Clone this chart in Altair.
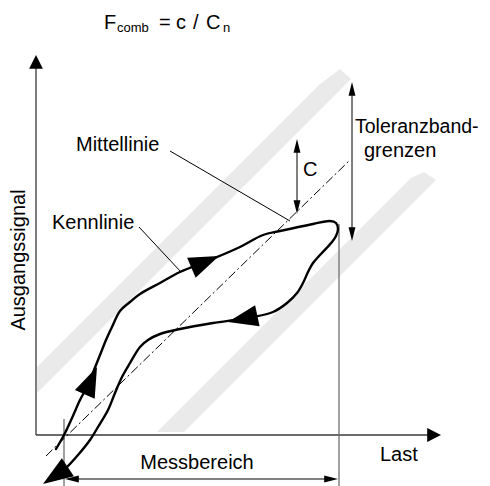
import altair as alt
import pandas as pd

# ---------------- data (schematic, in image pixel units) ----------------
# Kennlinie: hysteresis loop, ascending branch then descending branch
curve_x = [56, 64, 72, 80, 87, 94, 100, 106, 112, 120, 130, 140, 160, 180, 210, 240, 263, 280, 313, 330, 336, 338,
           336, 332, 320, 313, 308, 303, 297, 287, 273, 247, 213, 180, 160, 148, 140, 130, 122, 115, 108, 98, 90, 78, 65, 52]
curve_y = [449, 435, 418, 400, 387, 370, 355, 340, 327, 311, 302, 294, 283, 272, 260, 247, 235, 231, 224, 221, 223, 229,
           236, 242, 255, 263, 272, 283, 293, 303, 312, 318, 323, 329, 334, 340, 347, 363, 377, 393, 410, 427, 440, 455, 469, 480]

# Mittellinie (dash-dot)
mid_x = [46, 350]
mid_y = [456, 160]

# Tolerance bands (upper / lower limit of the band)
band_name = ["oben"] * 4 + ["unten"] * 5
band_x = [37, 319, 340, 351, 157, 184, 411, 424, 436]
band_top = [367, 85, 69, 79, 432, 405, 178, 172, 180]
band_bot = [393, 111, 90, 79, 432, 432, 205, 192, 180]

# straight segments
seg_x = [36, 36, 64, 339, 70, 297, 352, 170, 139]
seg_y = [435, 435, 419, 224, 479, 145, 88, 151, 227]
seg_x2 = [36, 434, 64, 339, 333, 297, 352, 290, 181]
seg_y2 = [62, 435, 486, 486, 479, 208, 236, 221, 272]
seg_kind = ["axis", "axis", "guide", "guide", "dim", "dim", "dim", "lead", "lead"]

# arrow heads (tip position, direction)
arr_x = [36, 441, 65, 338, 297, 297, 352, 352, 97, 219, 228, 43]
arr_y = [55, 435, 479, 479, 139, 214, 82, 241, 367, 256, 322, 484]
arr_angle = [0, 90, 270, 90, 0, 180, 0, 180, 24, 67, 258, 236]
arr_kind = ["axis", "axis", "thin", "thin", "thin", "thin", "thin", "thin", "curve", "curve", "curve", "curve"]

# labels
lab_text = ["Mittellinie", "Kennlinie", "C", "Toleranzband-", "grenzen", "Last"]
lab_x = [76, 52, 303, 355, 364, 380]
lab_y = [145, 223, 170, 127, 151, 455]
lab_size = [20, 20, 20, 19.5, 20, 20]

title_text = ["F", "comb", "=", "c", "/", "C", "n"]
title_x = [104, 117, 159, 176, 193, 206, 223]
title_y = [29, 32, 29, 29, 29, 29, 32]
title_size = [20, 13, 20, 20, 20, 20, 13]

# ---------------- styles ----------------
FONT = "Liberation Sans"
seg_color = {"axis": "#3a3a3a", "guide": "#6e6e6e", "dim": "#000000", "lead": "#000000"}
seg_width = {"axis": 1.3, "guide": 1.3, "dim": 1.0, "lead": 1.0}
arr_path = {"axis": "M0,0L1.0,2L-1.0,2Z", "thin": "M0,0L0.5,2L-0.5,2Z", "curve": "M0,0L0.72,2L-0.72,2Z"}
arr_size = {"axis": 190, "thin": 190, "curve": 900}

W, H = 474, 478
xs = alt.Scale(domain=[8, 8 + W], nice=False, zero=False)
ys = alt.Scale(domain=[8, 8 + H], nice=False, zero=False, reverse=True)

# ---------------- layers ----------------
bands = pd.DataFrame({"b": band_name, "x": band_x, "y": band_top, "y2": band_bot})
band_layer = alt.Chart(bands).mark_area(color="#eaeaea", interpolate="linear").encode(
    x=alt.X("x:Q", scale=xs, axis=None),
    y=alt.Y("y:Q", scale=ys, axis=None),
    y2="y2:Q",
    detail="b:N",
)

segs = pd.DataFrame({"x": seg_x, "y": seg_y, "x2": seg_x2, "y2": seg_y2, "k": seg_kind})
segs["c"] = segs["k"].map(seg_color)
segs["w"] = segs["k"].map(seg_width)
seg_layer = alt.Chart(segs).mark_rule().encode(
    x=alt.X("x:Q", scale=xs, axis=None),
    y=alt.Y("y:Q", scale=ys, axis=None),
    x2="x2:Q",
    y2="y2:Q",
    color=alt.Color("c:N", scale=None),
    strokeWidth=alt.StrokeWidth("w:Q", scale=None),
)

mid = pd.DataFrame({"x": mid_x, "y": mid_y, "i": range(len(mid_x))})
mid_layer = alt.Chart(mid).mark_line(color="black", strokeWidth=1, strokeDash=[9, 3, 2, 3]).encode(
    x=alt.X("x:Q", scale=xs, axis=None),
    y=alt.Y("y:Q", scale=ys, axis=None),
    order="i:Q",
)

curve = pd.DataFrame({"x": curve_x, "y": curve_y, "i": range(len(curve_x))})
curve_layer = alt.Chart(curve).mark_line(color="black", strokeWidth=2.4, interpolate="catmull-rom",
                                         strokeJoin="round", strokeCap="round").encode(
    x=alt.X("x:Q", scale=xs, axis=None),
    y=alt.Y("y:Q", scale=ys, axis=None),
    order="i:Q",
)

arrs = pd.DataFrame({"x": arr_x, "y": arr_y, "a": arr_angle, "k": arr_kind})
arrs["shape"] = arrs["k"].map(arr_path)
arrs["size"] = arrs["k"].map(arr_size)
arr_layer = alt.Chart(arrs).mark_point(filled=True, color="black", opacity=1, strokeWidth=0).encode(
    x=alt.X("x:Q", scale=xs, axis=None),
    y=alt.Y("y:Q", scale=ys, axis=None),
    shape=alt.Shape("shape:N", scale=None),
    size=alt.Size("size:Q", scale=None),
    angle=alt.Angle("a:Q", scale=None),
)

labs = pd.DataFrame({"t": lab_text, "x": lab_x, "y": lab_y, "s": lab_size})
lab_layer = alt.Chart(labs).mark_text(align="left", baseline="middle", font=FONT, color="black").encode(
    x=alt.X("x:Q", scale=xs, axis=None),
    y=alt.Y("y:Q", scale=ys, axis=None),
    text="t:N",
    size=alt.Size("s:Q", scale=None),
)

mess_layer = alt.Chart(pd.DataFrame({"t": ["Messbereich"], "x": [197], "y": [463]})).mark_text(
    align="center", baseline="middle", font=FONT, fontSize=20, color="black").encode(
    x=alt.X("x:Q", scale=xs, axis=None),
    y=alt.Y("y:Q", scale=ys, axis=None),
    text="t:N",
)

ylab_layer = alt.Chart(pd.DataFrame({"t": ["Ausgangssignal"], "x": [19], "y": [260]})).mark_text(
    align="center", baseline="middle", font=FONT, fontSize=20, color="black", angle=270).encode(
    x=alt.X("x:Q", scale=xs, axis=None),
    y=alt.Y("y:Q", scale=ys, axis=None),
    text="t:N",
)

tit = pd.DataFrame({"t": title_text, "x": title_x, "y": title_y, "s": title_size})
title_layer = alt.Chart(tit).mark_text(align="left", baseline="alphabetic", font=FONT, color="black").encode(
    x=alt.X("x:Q", scale=xs, axis=None),
    y=alt.Y("y:Q", scale=ys, axis=None),
    text="t:N",
    size=alt.Size("s:Q", scale=None),
)

chart = alt.layer(
    band_layer, seg_layer, mid_layer, curve_layer, arr_layer, lab_layer, mess_layer, ylab_layer, title_layer
).properties(
    width=W, height=H, padding=0, autosize=alt.AutoSizeParams(type="none"), background="white"
).configure_view(stroke=None)

chart.save("out.html", embed_options={"renderer": "svg", "actions": False})
